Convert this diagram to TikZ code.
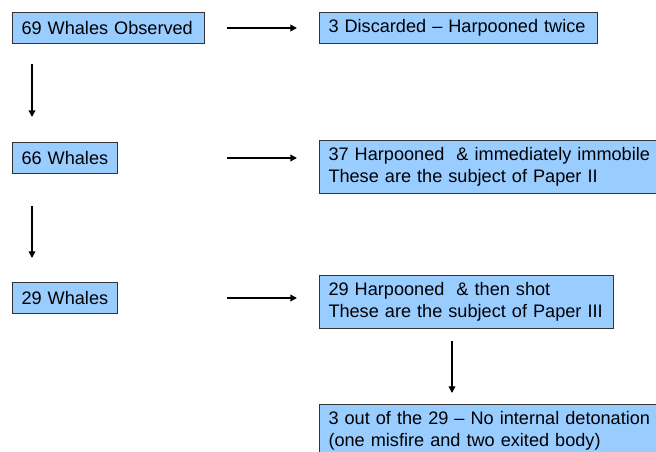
\documentclass[tikz,border=0pt]{standalone}
\usepackage{fontspec}
\setmainfont{Liberation Sans}
\usetikzlibrary{arrows.meta}
\definecolor{boxblue}{HTML}{99CCFF}
\definecolor{boxline}{HTML}{333333}
\tikzstyle{whalebox} = [rectangle, anchor=north west, fill=boxblue, draw=boxline, line width=0.75pt, inner xsep=6.75pt, inner ysep=0pt, align=left, font=\fontsize{13.6}{16.5}\selectfont]
\tikzstyle{flow} = [line width=1.4pt, -{Triangle[length=5pt,width=5pt]}]

\begin{document}
\begin{tikzpicture}[x=0.75pt,y=-0.75pt]
\clip (0,0) rectangle (656,452);

    % Left column: whale counts
    \node (obs) at (12,12) [whalebox, text width=130.5pt, minimum height=23.25pt] {\mbox{69 Whales Observed}};
    \node (w66) at (12,142) [whalebox, text width=65.25pt, minimum height=23.25pt] {\mbox{66 Whales}};
    \node (w29) at (12,282) [whalebox, text width=65.25pt, minimum height=23.25pt] {\mbox{29 Whales}};

    % Right column: outcomes
    \node (disc) at (319,12) [whalebox, text width=195pt, minimum height=23.25pt] {\mbox{3 Discarded -- Harpooned twice}};
    \node (imm) at (319,140) [whalebox, text width=245.25pt, minimum height=39.75pt] {\mbox{37 Harpooned \ \& immediately immobile}\\\mbox{These are the subject of Paper II}};
    \node (shot) at (319,275) [whalebox, text width=207pt, minimum height=39.75pt] {\mbox{29 Harpooned \ \& then shot}\\\mbox{These are the subject of Paper III}};
    \node (nodet) at (319,404) [whalebox, text width=245.25pt, minimum height=39.75pt] {\mbox{3 out of the 29 -- No internal detonation}\\\mbox{(one misfire and two exited body)}};

    % Horizontal arrows
    \draw[flow, shorten <=16.5pt, shorten >=16.5pt] (obs.east) -- (disc.west);
    \draw[flow, shorten <=16.5pt, shorten >=16.5pt] (w66.east -| obs.east) -- (w66.east -| imm.west);
    \draw[flow, shorten <=16.5pt, shorten >=16.5pt] (w29.east -| obs.east) -- (w29.east -| shot.west);

    % Vertical arrows
    \draw[flow, line width=1.1pt, shorten <=15pt, shorten >=18.75pt] ([xshift=15pt]obs.south west) -- ([xshift=15pt]w66.north west);
    \draw[flow, line width=1.1pt, shorten <=24pt, shorten >=18pt] ([xshift=15pt]w66.south west) -- ([xshift=15pt]w29.north west);
    \draw[flow, line width=1.1pt, shorten <=9pt, shorten >=8.25pt] ([xshift=99.75pt]shot.south west) -- ([xshift=99.75pt]nodet.north west);

\end{tikzpicture}
\end{document}
